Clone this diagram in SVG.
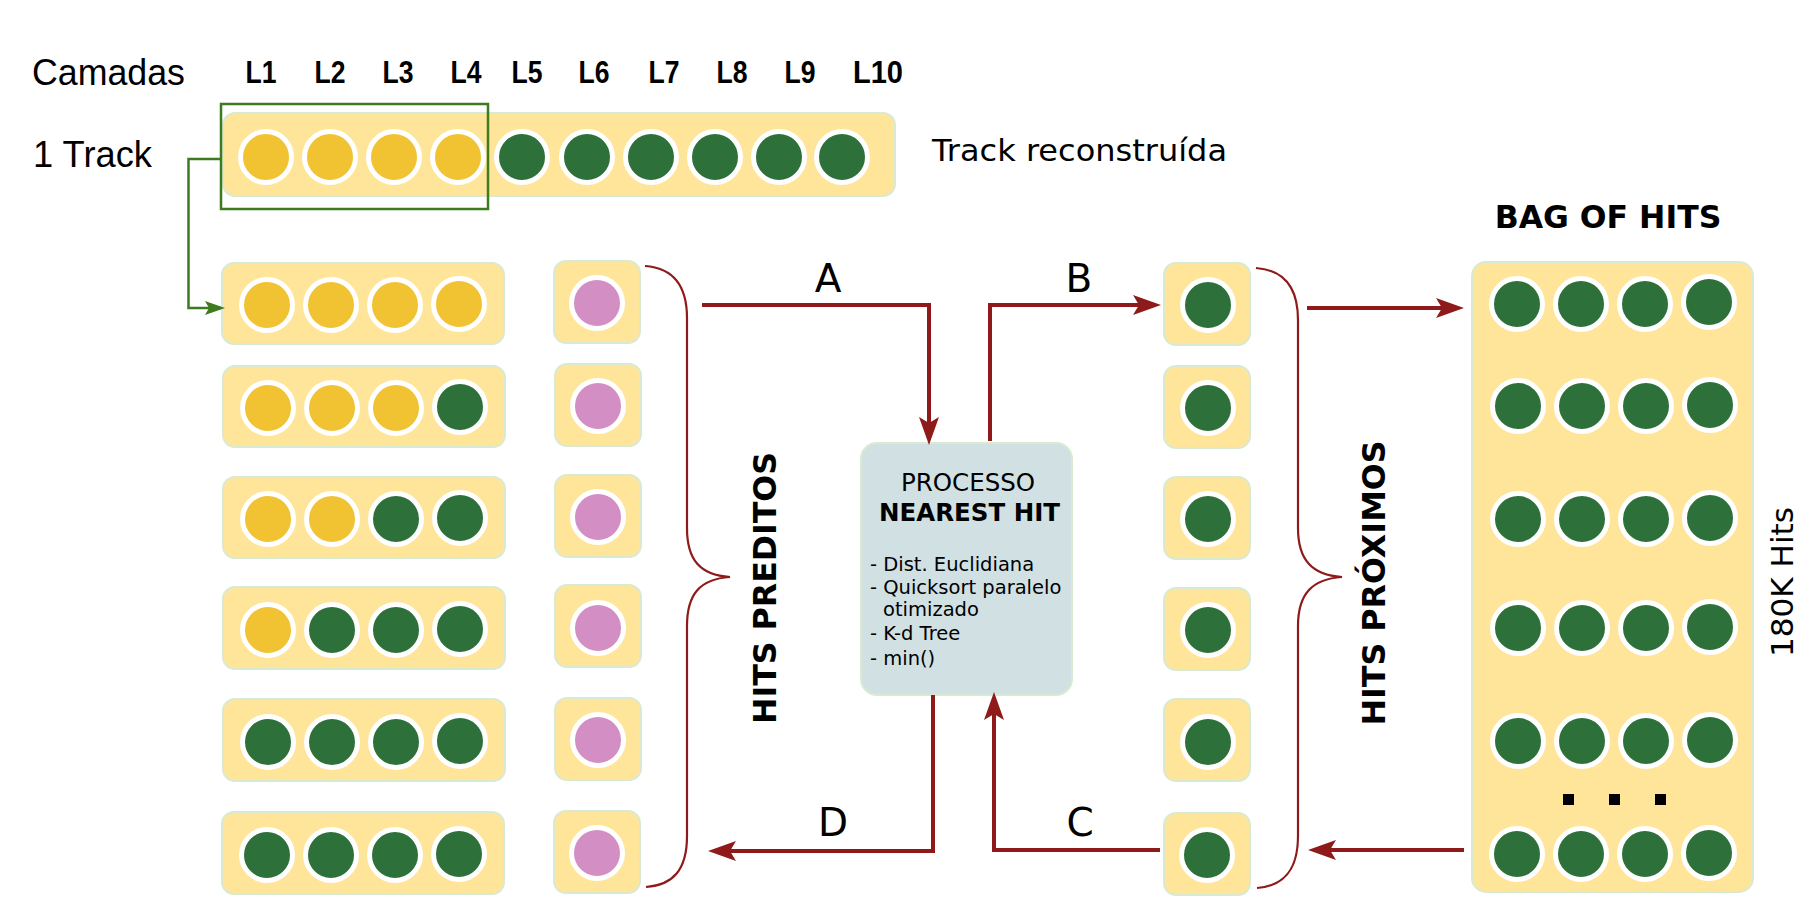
<svg xmlns="http://www.w3.org/2000/svg" width="1807" height="907" viewBox="0 0 1807 907">
<style>
.bar{fill:#FFE599;stroke:#D9EAD3;stroke-width:2}
.box{fill:#D0E0E3;stroke:#D9EAD3;stroke-width:2}
.y{fill:#F1C232;stroke:#fff;stroke-width:5}
.g{fill:#2E703A;stroke:#fff;stroke-width:5}
.p{fill:#D38EC3;stroke:#fff;stroke-width:5}
.red{fill:none;stroke:#8E1A1A;stroke-width:4}
.brace{fill:none;stroke:#8E1A1A;stroke-width:2.2}
.cal{font-family:"Liberation Sans",Arial,sans-serif;fill:#000}
.dj{font-family:"DejaVu Sans",Verdana,sans-serif;fill:#000}
.b{font-weight:bold}
</style>
<defs>
<marker id="ar" markerUnits="userSpaceOnUse" markerWidth="30" markerHeight="22" refX="22" refY="10" orient="auto" overflow="visible">
<path d="M0,0 L28,10 L0,20 L6,10 Z" fill="#8E1A1A"/>
</marker>
<marker id="ag" markerUnits="userSpaceOnUse" markerWidth="22" markerHeight="16" refX="16" refY="7" orient="auto" overflow="visible">
<path d="M0,0 L20,7 L0,14 L4,7 Z" fill="#3E7B1F"/>
</marker>
</defs>
<rect width="1807" height="907" fill="#fff"/>

<g id="labels">
<text class="cal" x="32" y="85" font-size="36" textLength="153" lengthAdjust="spacingAndGlyphs">Camadas</text>
<text class="cal" x="33" y="167" font-size="36" textLength="119" lengthAdjust="spacingAndGlyphs">1 Track</text>
<g class="cal b" font-size="32" text-anchor="middle">
<text x="261" y="83" textLength="31" lengthAdjust="spacingAndGlyphs">L1</text>
<text x="330" y="83" textLength="31" lengthAdjust="spacingAndGlyphs">L2</text>
<text x="398" y="83" textLength="31" lengthAdjust="spacingAndGlyphs">L3</text>
<text x="466" y="83" textLength="31" lengthAdjust="spacingAndGlyphs">L4</text>
<text x="527" y="83" textLength="31" lengthAdjust="spacingAndGlyphs">L5</text>
<text x="594" y="83" textLength="31" lengthAdjust="spacingAndGlyphs">L6</text>
<text x="664" y="83" textLength="31" lengthAdjust="spacingAndGlyphs">L7</text>
<text x="732" y="83" textLength="31" lengthAdjust="spacingAndGlyphs">L8</text>
<text x="800" y="83" textLength="31" lengthAdjust="spacingAndGlyphs">L9</text>
<text x="878" y="83" textLength="50" lengthAdjust="spacingAndGlyphs">L10</text>
</g>
<text class="dj" x="932" y="161" font-size="30" textLength="295" lengthAdjust="spacingAndGlyphs">Track reconstruída</text>
<text class="dj b" x="1608" y="228" font-size="31.5" text-anchor="middle">BAG OF HITS</text>
<text class="dj b" transform="translate(776,588) rotate(-90)" font-size="32" text-anchor="middle" textLength="272" lengthAdjust="spacingAndGlyphs">HITS PREDITOS</text>
<text class="dj b" transform="translate(1385,583) rotate(-90)" font-size="32" text-anchor="middle" textLength="285" lengthAdjust="spacingAndGlyphs">HITS PRÓXIMOS</text>
<text class="dj" transform="translate(1793,582) rotate(-90)" font-size="31" text-anchor="middle" textLength="150" lengthAdjust="spacingAndGlyphs">180K Hits</text>
</g>

<g id="track">
<rect class="bar" x="223" y="113" width="672" height="83" rx="12"/>
<circle class="y" cx="266" cy="157" r="25.5"/>
<circle class="y" cx="330" cy="157" r="25.5"/>
<circle class="y" cx="394" cy="157" r="25.5"/>
<circle class="y" cx="458" cy="157" r="25.5"/>
<circle class="g" cx="522" cy="157" r="25.5"/>
<circle class="g" cx="587" cy="157" r="25.5"/>
<circle class="g" cx="651" cy="157" r="25.5"/>
<circle class="g" cx="715" cy="157" r="25.5"/>
<circle class="g" cx="779" cy="157" r="25.5"/>
<circle class="g" cx="842" cy="157" r="25.5"/>
<rect x="221" y="104" width="267" height="105" fill="none" stroke="#3E7B1F" stroke-width="2.5"/>
</g>

<g id="row1">
<rect class="bar" x="222" y="263" width="282" height="81" rx="12"/>
<circle class="y" cx="267" cy="305" r="25.5"/><circle class="y" cx="331" cy="305" r="25.5"/><circle class="y" cx="395" cy="305" r="25.5"/><circle class="y" cx="459" cy="304" r="25.5"/>
</g>
<g id="row2">
<rect class="bar" x="223" y="366" width="282" height="81" rx="12"/>
<circle class="y" cx="268" cy="408" r="25.5"/><circle class="y" cx="332" cy="408" r="25.5"/><circle class="y" cx="396" cy="408" r="25.5"/><circle class="g" cx="460" cy="407" r="25.5"/>
</g>
<g id="row3">
<rect class="bar" x="223" y="477" width="282" height="81" rx="12"/>
<circle class="y" cx="268" cy="519" r="25.5"/><circle class="y" cx="332" cy="519" r="25.5"/><circle class="g" cx="396" cy="519" r="25.5"/><circle class="g" cx="460" cy="518" r="25.5"/>
</g>
<g id="row4">
<rect class="bar" x="223" y="587" width="282" height="82" rx="12"/>
<circle class="y" cx="268" cy="630" r="25.5"/><circle class="g" cx="332" cy="630" r="25.5"/><circle class="g" cx="396" cy="630" r="25.5"/><circle class="g" cx="460" cy="629" r="25.5"/>
</g>
<g id="row5">
<rect class="bar" x="223" y="699" width="282" height="82" rx="12"/>
<circle class="g" cx="268" cy="742" r="25.5"/><circle class="g" cx="332" cy="742" r="25.5"/><circle class="g" cx="396" cy="742" r="25.5"/><circle class="g" cx="460" cy="741" r="25.5"/>
</g>
<g id="row6">
<rect class="bar" x="222" y="812" width="282" height="82" rx="12"/>
<circle class="g" cx="267" cy="855" r="25.5"/><circle class="g" cx="331" cy="855" r="25.5"/><circle class="g" cx="395" cy="855" r="25.5"/><circle class="g" cx="459" cy="854" r="25.5"/>
</g>

<g id="predicted">
<rect class="bar" x="554" y="261" width="86" height="82" rx="12"/><circle class="p" cx="597" cy="303" r="25.5"/>
<rect class="bar" x="555" y="364" width="86" height="82" rx="12"/><circle class="p" cx="598" cy="406" r="25.5"/>
<rect class="bar" x="555" y="475" width="86" height="82" rx="12"/><circle class="p" cx="598" cy="517" r="25.5"/>
<rect class="bar" x="555" y="585" width="86" height="82" rx="12"/><circle class="p" cx="598" cy="628" r="25.5"/>
<rect class="bar" x="555" y="698" width="86" height="82" rx="12"/><circle class="p" cx="598" cy="740" r="25.5"/>
<rect class="bar" x="554" y="811" width="86" height="82" rx="12"/><circle class="p" cx="597" cy="853" r="25.5"/>
</g>

<g id="process">
<rect class="box" x="861" y="443" width="211" height="252" rx="16"/>
<text class="dj" x="968" y="491" font-size="24.5" text-anchor="middle">PROCESSO</text>
<text class="dj b" x="969.5" y="521" font-size="24.5" text-anchor="middle">NEAREST HIT</text>
<g class="dj" font-size="19.5">
<text x="870" y="571">- Dist. Euclidiana</text>
<text x="870" y="594">- Quicksort paralelo</text>
<text x="883" y="616">otimizado</text>
<text x="870" y="640">- K-d Tree</text>
<text x="870" y="665">- min()</text>
</g>
</g>

<g id="nearest">
<rect class="bar" x="1164" y="263" width="86" height="82" rx="12"/><circle class="g" cx="1208" cy="305" r="25.5"/>
<rect class="bar" x="1164" y="366" width="86" height="82" rx="12"/><circle class="g" cx="1208" cy="408" r="25.5"/>
<rect class="bar" x="1164" y="477" width="86" height="82" rx="12"/><circle class="g" cx="1208" cy="519" r="25.5"/>
<rect class="bar" x="1164" y="588" width="86" height="82" rx="12"/><circle class="g" cx="1208" cy="630" r="25.5"/>
<rect class="bar" x="1164" y="699" width="86" height="82" rx="12"/><circle class="g" cx="1208" cy="742" r="25.5"/>
<rect class="bar" x="1164" y="813" width="86" height="82" rx="12"/><circle class="g" cx="1207" cy="855" r="25.5"/>
</g>

<g id="bag">
<rect class="bar" x="1472" y="262" width="281" height="630" rx="14"/>
<circle class="g" cx="1517" cy="304" r="25.5"/><circle class="g" cx="1581" cy="304" r="25.5"/><circle class="g" cx="1645" cy="304" r="25.5"/><circle class="g" cx="1709" cy="302" r="25.5"/>
<circle class="g" cx="1518" cy="406" r="25.5"/><circle class="g" cx="1582" cy="406" r="25.5"/><circle class="g" cx="1646" cy="406" r="25.5"/><circle class="g" cx="1710" cy="405" r="25.5"/>
<circle class="g" cx="1518" cy="519" r="25.5"/><circle class="g" cx="1582" cy="519" r="25.5"/><circle class="g" cx="1646" cy="519" r="25.5"/><circle class="g" cx="1710" cy="518" r="25.5"/>
<circle class="g" cx="1518" cy="628" r="25.5"/><circle class="g" cx="1582" cy="628" r="25.5"/><circle class="g" cx="1646" cy="628" r="25.5"/><circle class="g" cx="1710" cy="627" r="25.5"/>
<circle class="g" cx="1518" cy="741" r="25.5"/><circle class="g" cx="1582" cy="741" r="25.5"/><circle class="g" cx="1646" cy="741" r="25.5"/><circle class="g" cx="1710" cy="740" r="25.5"/>
<circle class="g" cx="1517" cy="854" r="25.5"/><circle class="g" cx="1581" cy="854" r="25.5"/><circle class="g" cx="1645" cy="854" r="25.5"/><circle class="g" cx="1709" cy="853" r="25.5"/>
<rect x="1563" y="794" width="11" height="11" fill="#000"/>
<rect x="1609" y="794" width="11" height="11" fill="#000"/>
<rect x="1655" y="794" width="11" height="11" fill="#000"/>
</g>

<g id="connectors">
<path d="M221,159 H188.5 V308 H221" fill="none" stroke="#3E7B1F" stroke-width="2.5" marker-end="url(#ag)"/>
<path class="brace" d="M645,266 C673,268 687,285 687,318 L687,528 C687,560 700,575 730,577 C700,579 687,594 687,626 L687,836 C687,870 673,885 646,887"/>
<path class="brace" d="M1256,268 C1284,270 1298,287 1298,320 L1298,528 C1298,560 1312,575 1342,577 C1312,579 1298,594 1298,626 L1298,836 C1298,870 1284,886 1257,888"/>
<path class="red" d="M702,305 H929 V439" marker-end="url(#ar)"/>
<path class="red" d="M990,441 V305 H1155" marker-end="url(#ar)"/>
<path class="red" d="M933,695 V851 H714" marker-end="url(#ar)"/>
<path class="red" d="M1160,850 H994 V698" marker-end="url(#ar)"/>
<path class="red" d="M1307,308 H1458" marker-end="url(#ar)"/>
<path class="red" d="M1464,850 H1314" marker-end="url(#ar)"/>
<g class="dj" font-size="39" text-anchor="middle">
<text x="828" y="292">A</text>
<text x="1079" y="292">B</text>
<text x="833" y="836">D</text>
<text x="1080" y="836">C</text>
</g>
</g>
</svg>
